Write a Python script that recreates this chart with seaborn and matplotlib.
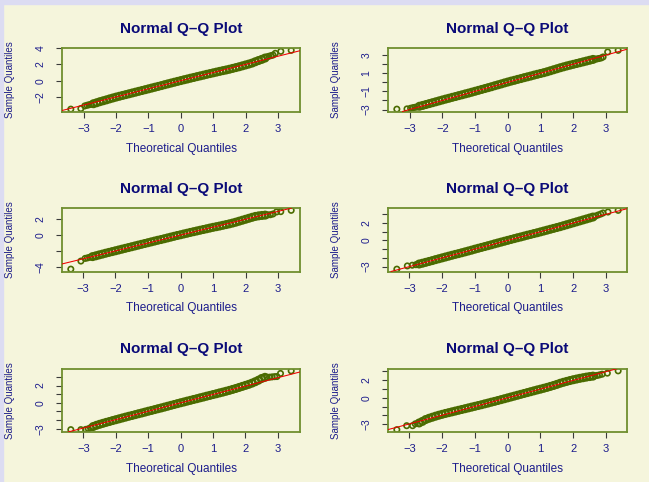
import numpy as np
import pandas as pd
import matplotlib
matplotlib.use("Agg")
import matplotlib.pyplot as plt
import seaborn as sns

# theoretical quantiles of the dense middle part (shared by all panels)
grid_x = [-2.7, -2.6, -2.5, -2.4, -2.3, -2.2, -2.1, -2.0, -1.9, -1.8,
          -1.7, -1.6, -1.5, -1.4, -1.3, -1.2, -1.1, -1.0, -0.9, -0.8,
          -0.7, -0.6, -0.5, -0.4, -0.3, -0.2, -0.1, 0.0, 0.1, 0.2,
          0.3, 0.4, 0.5, 0.6, 0.7, 0.8, 0.9, 1.0, 1.1, 1.2,
          1.3, 1.4, 1.5, 1.6, 1.7, 1.8, 1.9, 2.0, 2.1, 2.2,
          2.3, 2.4, 2.5, 2.6]

# sample quantiles (row by row, left to right)
body_1 = [-2.78, -2.66, -2.53, -2.42, -2.31, -2.19, -2.08, -1.97, -1.87, -1.77,
          -1.67, -1.57, -1.47, -1.37, -1.27, -1.17, -1.07, -0.97, -0.87, -0.77,
          -0.67, -0.57, -0.46, -0.36, -0.26, -0.16, -0.06, 0.04, 0.14, 0.23,
          0.33, 0.42, 0.52, 0.61, 0.70, 0.80, 0.89, 0.98, 1.07, 1.16,
          1.25, 1.33, 1.42, 1.52, 1.62, 1.72, 1.83, 1.94, 2.05, 2.17,
          2.33, 2.48, 2.62, 2.78]
tail_x_1 = [-3.40, -3.09, -2.97, -2.90, -2.84, -2.78, 2.66, 2.72, 2.79, 2.85, 2.92, 3.09, 3.41]
tail_y_1 = [-3.44, -3.37, -3.05, -2.97, -2.91, -2.85, 2.92, 3.00, 3.08, 3.15, 3.36, 3.60, 3.72]

body_2 = [-2.64, -2.55, -2.45, -2.35, -2.25, -2.15, -2.05, -1.95, -1.85, -1.76,
          -1.66, -1.57, -1.47, -1.38, -1.28, -1.19, -1.09, -0.99, -0.89, -0.79,
          -0.69, -0.59, -0.49, -0.38, -0.28, -0.18, -0.07, 0.03, 0.13, 0.22,
          0.32, 0.41, 0.51, 0.60, 0.69, 0.79, 0.88, 0.97, 1.06, 1.16,
          1.27, 1.38, 1.49, 1.60, 1.70, 1.80, 1.89, 1.98, 2.07, 2.16,
          2.25, 2.34, 2.43, 2.52]
tail_x_2 = [-3.39, -3.08, -2.97, -2.90, -2.84, -2.78, 2.66, 2.72, 2.78, 2.85, 2.91, 3.05, 3.37]
tail_y_2 = [-2.96, -2.93, -2.86, -2.80, -2.76, -2.72, 2.55, 2.57, 2.62, 2.68, 2.79, 3.34, 3.52]

body_3 = [-2.68, -2.58, -2.47, -2.37, -2.26, -2.16, -2.06, -1.96, -1.86, -1.76,
          -1.66, -1.56, -1.46, -1.36, -1.26, -1.16, -1.06, -0.96, -0.86, -0.76,
          -0.66, -0.57, -0.47, -0.37, -0.27, -0.17, -0.07, 0.02, 0.12, 0.21,
          0.31, 0.40, 0.49, 0.58, 0.67, 0.76, 0.85, 0.94, 1.02, 1.10,
          1.19, 1.28, 1.37, 1.47, 1.58, 1.70, 1.82, 1.94, 2.06, 2.18,
          2.29, 2.36, 2.41, 2.45]
tail_x_3 = [-3.37, -3.06, -2.93, -2.86, -2.79, 2.68, 2.76, 2.84, 2.95, 3.08, 3.40]
tail_y_3 = [-4.23, -3.23, -2.90, -2.84, -2.76, 2.48, 2.50, 2.59, 2.84, 2.88, 3.04]

body_4 = [-2.70, -2.61, -2.51, -2.41, -2.31, -2.20, -2.10, -2.00, -1.90, -1.80,
          -1.70, -1.60, -1.51, -1.41, -1.31, -1.21, -1.11, -1.00, -0.90, -0.80,
          -0.70, -0.60, -0.50, -0.39, -0.29, -0.19, -0.09, 0.01, 0.11, 0.21,
          0.31, 0.40, 0.50, 0.60, 0.69, 0.79, 0.88, 0.98, 1.08, 1.18,
          1.28, 1.38, 1.48, 1.58, 1.69, 1.80, 1.91, 2.02, 2.13, 2.24,
          2.35, 2.46, 2.57, 2.68]
tail_x_4 = [-3.38, -3.06, -2.91, -2.80, 2.68, 2.76, 2.84, 2.91, 3.06, 3.37]
tail_y_4 = [-3.29, -2.92, -2.84, -2.78, 2.80, 2.92, 3.03, 3.15, 3.26, 3.45]

body_5 = [-2.74, -2.60, -2.48, -2.37, -2.26, -2.16, -2.05, -1.95, -1.85, -1.75,
          -1.65, -1.55, -1.46, -1.36, -1.26, -1.17, -1.07, -0.97, -0.88, -0.78,
          -0.68, -0.59, -0.49, -0.39, -0.29, -0.19, -0.09, 0.01, 0.10, 0.20,
          0.29, 0.39, 0.48, 0.58, 0.67, 0.77, 0.86, 0.96, 1.05, 1.15,
          1.24, 1.34, 1.44, 1.55, 1.66, 1.78, 1.90, 2.02, 2.14, 2.28,
          2.44, 2.62, 2.82, 2.95]
tail_x_5 = [-3.39, -3.08, -2.93, -2.85, -2.78, 2.66, 2.74, 2.82, 2.90, 2.97, 3.08, 3.41]
tail_y_5 = [-3.10, -3.10, -3.07, -3.00, -2.87, 2.96, 2.97, 3.00, 3.03, 3.04, 3.40, 3.70]

body_6 = [-2.86, -2.68, -2.47, -2.33, -2.21, -2.09, -1.98, -1.88, -1.78, -1.69,
          -1.60, -1.51, -1.42, -1.33, -1.24, -1.15, -1.06, -0.97, -0.88, -0.79,
          -0.69, -0.60, -0.50, -0.41, -0.31, -0.21, -0.11, -0.01, 0.09, 0.19,
          0.29, 0.39, 0.49, 0.59, 0.69, 0.79, 0.89, 0.98, 1.08, 1.18,
          1.29, 1.40, 1.52, 1.65, 1.76, 1.86, 1.96, 2.05, 2.13, 2.21,
          2.28, 2.35, 2.41, 2.46]
tail_x_6 = [-3.38, -3.08, -2.90, -2.82, 2.66, 2.73, 2.80, 2.88, 3.04, 3.37]
tail_y_6 = [-3.62, -3.17, -3.17, -2.96, 2.50, 2.54, 2.60, 2.68, 2.80, 3.06]

bodies = [body_1, body_2, body_3, body_4, body_5, body_6]
tails_x = [tail_x_1, tail_x_2, tail_x_3, tail_x_4, tail_x_5, tail_x_6]
tails_y = [tail_y_1, tail_y_2, tail_y_3, tail_y_4, tail_y_5, tail_y_6]

# reference line (qqline) per panel
line_intercept = [0.03, 0.0, -0.02, 0.0, 0.0, 0.0]
line_slope = [0.99, 1.0, 0.98, 1.0, 0.97, 0.99]

x_ticks = [-3, -2, -1, 0, 1, 2, 3]
x_labels = ["\u22123", "\u22122", "\u22121", "0", "1", "2", "3"]
y_ticks = [[-2, 0, 2, 4], [-3, -2, -1, 0, 1, 2, 3], [-4, -2, 0, 2],
           [-3, -2, -1, 0, 1, 2, 3], [-3, -2, -1, 0, 1, 2, 3], [-3, -2, -1, 0, 1, 2, 3]]
y_labels = [["\u22122", "0", "2", "4"],
            ["\u22123", "", "\u22121", "", "1", "", "3"],
            ["\u22124", "", "0", "2"],
            ["\u22123", "", "", "0", "", "2", ""],
            ["\u22123", "", "", "0", "", "2", ""],
            ["\u22123", "", "", "0", "", "2", ""]]

title = "Normal Q\u2013Q Plot"
xlab = "Theoretical Quantiles"
ylab = "Sample Quantiles"

bg = "#f5f5dc"
navy = "#0a0a78"
label_blue = "#1c1c8c"
frame = "#6f8f2f"
pt_col = "#4a6b00"

sns.set_theme(style="ticks")
plt.rcParams["font.family"] = ["Liberation Sans", "DejaVu Sans"]

W, H = 649, 482
fig = plt.figure(figsize=(W / 100, H / 100), dpi=100)
fig.patch.set_facecolor(bg)
# thin lavender border of the original screenshot
fig.add_artist(plt.Rectangle((0, 1 - 4 / H), 1, 4 / H, transform=fig.transFigure,
                             color="#dcdcf2", zorder=0))
fig.add_artist(plt.Rectangle((0, 0), 3 / W, 1, transform=fig.transFigure,
                             color="#dcdcf2", zorder=0))

col_left = [62, 388]
col_w = [238, 239]
row_top = [48, 208, 368.5]
box_h = 63.5


def r_lim(vals):
    lo, hi = min(vals), max(vals)
    pad = 0.04 * (hi - lo)
    return lo - pad, hi + pad


for i in range(6):
    r, c = divmod(i, 2)
    ax = fig.add_axes([col_left[c] / W, 1 - (row_top[r] + box_h) / H,
                       col_w[c] / W, box_h / H])
    ax.set_facecolor(bg)

    body = pd.DataFrame({"theo": grid_x, "samp": bodies[i]})
    tail = pd.DataFrame({"theo": tails_x[i], "samp": tails_y[i]})
    # the dense middle overlaps into a thick band, drawn a bit heavier
    sns.scatterplot(data=body, x="theo", y="samp", ax=ax, marker="o", s=24,
                    facecolor="none", edgecolor=pt_col, linewidth=1.6, zorder=2)
    sns.scatterplot(data=tail, x="theo", y="samp", ax=ax, marker="o", s=15,
                    facecolor="none", edgecolor=pt_col, linewidth=1.2, zorder=2)
    ax.axline((0, line_intercept[i]), slope=line_slope[i], color="#ee0000",
              lw=0.75, zorder=3)

    ax.set_xlim(r_lim(grid_x + tails_x[i]))
    ax.set_ylim(r_lim(bodies[i] + tails_y[i]))

    ax.set_xticks(x_ticks)
    ax.set_xticklabels(x_labels)
    ax.set_yticks(y_ticks[i])
    ax.set_yticklabels(y_labels[i], rotation=90, va="center")

    ax.tick_params(axis="both", direction="out", length=4.5, width=0.8,
                   color="#3a3a3a", labelcolor=label_blue)
    ax.tick_params(axis="x", labelsize=8, pad=4.5)
    ax.tick_params(axis="y", labelsize=7.5, pad=7.5)

    for sp in ax.spines.values():
        sp.set_color(frame)
        sp.set_linewidth(1.3)
        sp.set_visible(True)

    ax.set_title(title, fontsize=11, fontweight="bold", color=navy, pad=11)
    ax.set_xlabel(xlab, fontsize=8.5, color=label_blue)
    ax.set_ylabel(ylab, fontsize=7, color=label_blue)
    ax.xaxis.set_label_coords(0.5, -31 / box_h)
    ax.yaxis.set_label_coords(-47 / col_w[c], 0.5)
    ax.grid(False)

fig.savefig("out.png", dpi=100, facecolor=fig.get_facecolor())
